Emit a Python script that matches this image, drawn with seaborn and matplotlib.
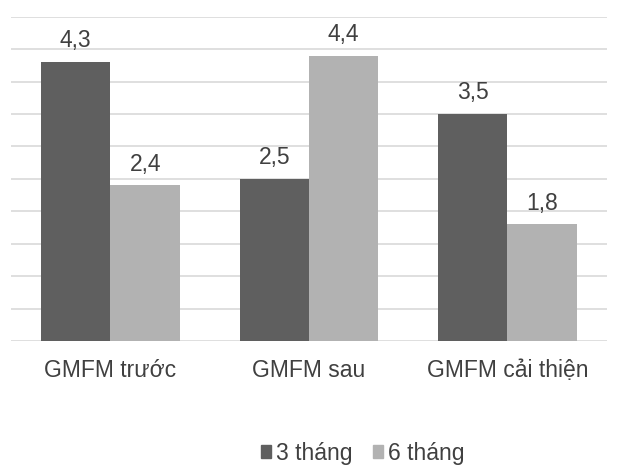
import pandas as pd
import matplotlib
matplotlib.use("Agg")
import matplotlib.pyplot as plt
from matplotlib.patches import Patch
import seaborn as sns

sns.set_theme(style="white")
plt.rcParams['font.family'] = ['Liberation Sans', 'DejaVu Sans']

## Data ##
categories = ["GMFM trước", "GMFM sau", "GMFM cải thiện"]
series_names = ["3 tháng", "6 tháng"]
values_3 = [4.3, 2.5, 3.5]
values_6 = [2.4, 4.4, 1.8]

df = pd.DataFrame({
    "cat": categories * 2,
    "series": [series_names[0]] * 3 + [series_names[1]] * 3,
    "value": values_3 + values_6,
})

colors = ["#5f5f5f", "#b2b2b2"]
text_col = "#404040"
fs = 16.5

fig = plt.figure(figsize=(6.2, 4.68), dpi=100)
ax = fig.add_axes([0.0181, 0.2714, 0.9605, 0.693])

sns.barplot(data=df, x="cat", y="value", hue="series", palette=colors,
            width=0.7, ax=ax, legend=False, saturation=1, linewidth=0)

for c in ax.containers:
    ax.bar_label(c, labels=[("%.1f" % v).replace(".", ",") for v in c.datavalues],
                 padding=7, fontsize=fs, color=text_col)

ax.set_ylim(0, 5)
ax.set_xlim(-0.5, 2.5)
ax.set_yticks([i * 0.5 for i in range(11)])
ax.yaxis.grid(True, color="#d9d9d9", linewidth=1.2)
ax.set_axisbelow(True)
ax.set_yticklabels([])
ax.tick_params(axis="y", length=0)
ax.tick_params(axis="x", length=0, pad=13, labelsize=fs, labelcolor=text_col)
ax.set_xlabel("")
ax.set_ylabel("")
sns.despine(ax=ax, left=True, bottom=True)

handles = [Patch(color=colors[i], label=series_names[i]) for i in range(2)]
fig.legend(handles=handles, loc="center", bbox_to_anchor=(0.585, 0.032), ncol=2,
           frameon=False, fontsize=fs, labelcolor=text_col,
           handlelength=0.45, handleheight=0.45, handletextpad=0.2, columnspacing=0.9,
           borderpad=0.1)

fig.savefig("out.png", dpi=100)
